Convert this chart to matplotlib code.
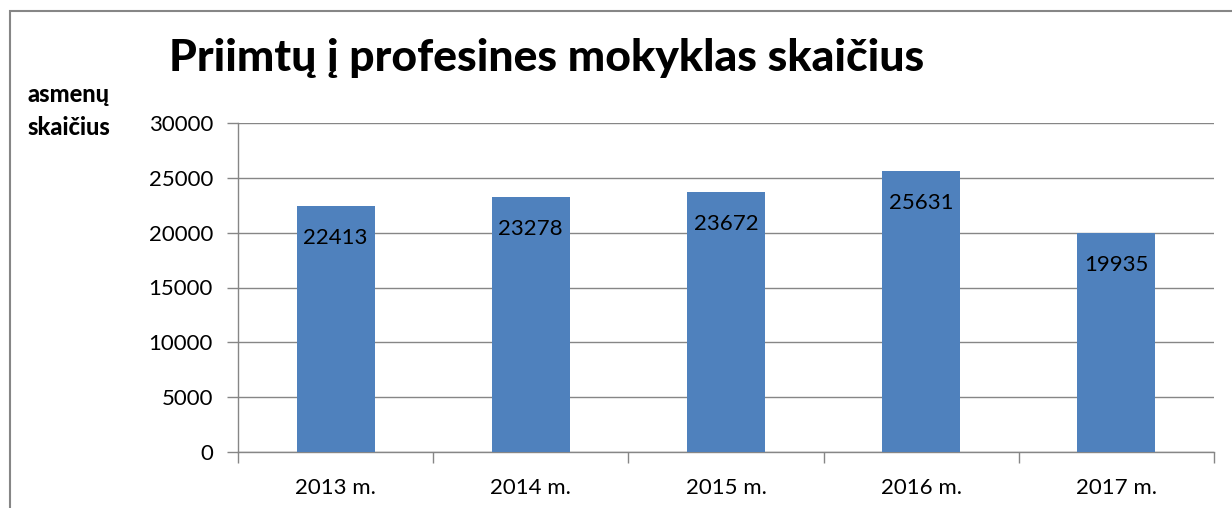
import matplotlib.pyplot as plt
from matplotlib.patches import Rectangle

years = ["2013 m.", "2014 m.", "2015 m.", "2016 m.", "2017 m."]
counts = [22413, 23278, 23672, 25631, 19935]
y_ticks = [0, 5000, 10000, 15000, 20000, 25000, 30000]

plt.rcParams["font.family"] = ["Lato", "DejaVu Sans"]

W, H = 1232, 508
fig = plt.figure(figsize=(W / 100, H / 100), dpi=100)

# outer chart frame (runs off the right and bottom edges)
fig.patches.append(
    Rectangle((10 / W, -0.1), 1.2, 1 - 11 / H + 0.1, transform=fig.transFigure,
              fill=False, edgecolor="#868686", linewidth=1.5)
)

ax = fig.add_axes([238 / W, 1 - 452 / H, (1214 - 238) / W, (452 - 123) / H])

x = list(range(len(years)))
ax.bar(x, counts, width=0.4, color="#4F81BD", zorder=3)
for xi, v in zip(x, counts):
    ax.annotate(str(v), (xi, v), xytext=(0, -32), textcoords="offset pixels",
                ha="center", va="center", fontsize=16, color="black", zorder=4)

ax.set_xlim(-0.5, len(years) - 0.5)
ax.set_ylim(0, 30000)
ax.set_yticks(y_ticks)
ax.set_yticklabels([str(t) for t in y_ticks])
ax.tick_params(axis="y", length=8, width=1, color="#868686", pad=10, labelsize=16)

ax.set_xticks(x)
ax.set_xticklabels(years)
ax.set_xticks([i - 0.5 for i in range(len(years) + 1)], minor=True)
ax.tick_params(axis="x", which="major", length=0, pad=19, labelsize=16)
ax.tick_params(axis="x", which="minor", length=8, width=1, color="#868686")

ax.grid(axis="y", color="#868686", linewidth=1, zorder=0)
for side in ["top", "right"]:
    ax.spines[side].set_visible(False)
for side in ["left", "bottom"]:
    ax.spines[side].set_color("#868686")
    ax.spines[side].set_linewidth(1)

fig.text(547 / W, 1 - 58 / H, "Priimtų į profesines mokyklas skaičius",
         ha="center", va="center", fontsize=32, fontweight="black")
fig.text(27 / W, 1 - 111 / H, "asmenų\nskaičius", ha="left", va="center",
         fontsize=17, fontweight="black", linespacing=1.55)

fig.savefig("out.png", dpi=100)
